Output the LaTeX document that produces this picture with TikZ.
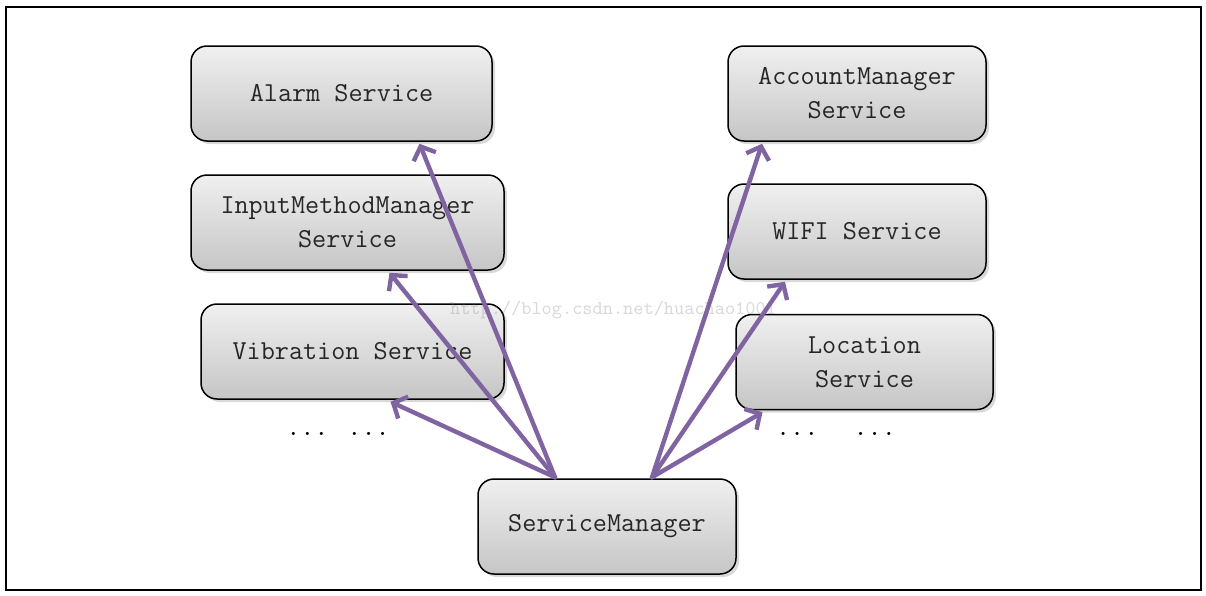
\documentclass[tikz,border=0pt]{standalone}
\usepackage{fontspec}
\usetikzlibrary{arrows.meta, shadows, calc}
\definecolor{svcpurple}{HTML}{8064A2}

\begin{document}
\begin{tikzpicture}[x=0.5pt, y=-0.5pt, >={Straight Barb[length=5.5pt, width=12pt]},
  svcbox/.style={draw=black, line width=0.75pt, rounded corners=8pt,
    top color=gray!12, bottom color=gray!45,
    drop shadow={shadow xshift=1.5pt, shadow yshift=-1.5pt, opacity=0.3},
    minimum height=47.5pt, align=center, text=black!85,
    font=\ttfamily\fontsize{13.7}{17}\selectfont},
  link/.style={->, draw=svcpurple, line width=2.2pt, line cap=round},
  dots/.style={font=\ttfamily\fontsize{13.7}{17}\selectfont, anchor=base}]

  % --- Canvas and outer frame ---
  \useasboundingbox (0,0) rectangle (1206,595);
  \draw[line width=0.75pt] (6,7) rectangle (1201,590);

  % --- Left column of services ---
  \node[svcbox, minimum width=150.5pt] (alarm) at (341.5,93.5) {Alarm Service};
  \node[svcbox, minimum width=156.5pt] (imm) at (347.5,222.5) {InputMethodManager\\Service};
  \node[svcbox, minimum width=151.5pt] (vib) at (352.5,351.5) {Vibration Service};
  \node[dots] (dotsL) at (338,435) {... ...};

  % --- Right column of services ---
  \node[svcbox, minimum width=129pt] (acct) at (857,93.5) {AccountManager\\Service};
  \node[svcbox, minimum width=129pt] (wifi) at (857,231.5) {WIFI Service};
  \node[svcbox, minimum width=128.5pt] (loc) at (864.5,362) {Location\\Service};
  \node[dots] (dotsR) at (836,435) {...\hspace{17.6pt}...};

  % --- Manager at the bottom ---
  \node[svcbox, minimum width=129pt] (sm) at (607,526.5) {ServiceManager};
  \coordinate (smL) at ($(sm.north)+(-52,-1)$);
  \coordinate (smR) at ($(sm.north)+(45,-1)$);

  % --- Links from the manager to each service ---
  \draw[link] (smL) -- ($(alarm.south)+(78,2)$);
  \draw[link] (smL) -- ($(imm.south)+(42,2)$);
  \draw[link] (smL) -- ($(vib.south)+(38,2)$);
  \draw[link] (smR) -- ($(acct.south)+(-95,2)$);
  \draw[link] (smR) -- ($(wifi.south)+(-72,2)$);
  \draw[link] (smR) -- ($(loc.south)+(-102,2)$);

  % --- Watermark ---
  \node[font=\ttfamily\fontsize{9.7}{11}\selectfont, text=gray, opacity=0.3, anchor=base west]
    (mark) at (443,314) {http://blog.csdn.net/huachao1001};

\end{tikzpicture}
\end{document}
